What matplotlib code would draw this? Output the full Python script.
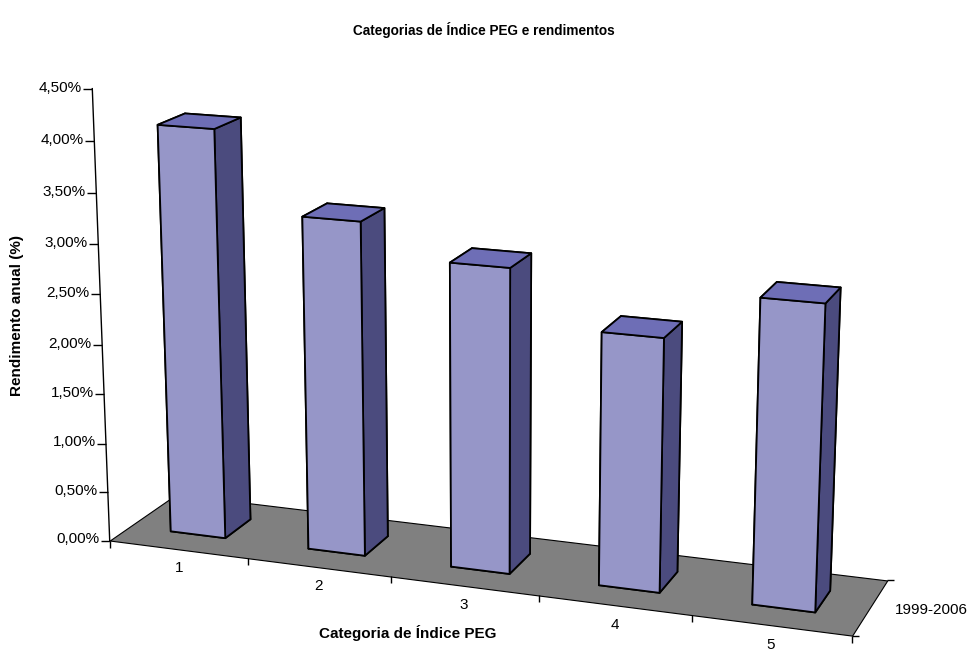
import numpy as np
import matplotlib
matplotlib.use('Agg')
import matplotlib.pyplot as plt
from mpl_toolkits.mplot3d.art3d import Poly3DCollection

plt.rcParams['font.family'] = ['Liberation Sans', 'DejaVu Sans']

# dados
categories = ['1', '2', '3', '4', '5']
returns = [4.10, 3.32, 3.00, 2.47, 2.93]   # rendimento anual em %
series_name = '1999-2006'
y_ticks = [0.0, 0.5, 1.0, 1.5, 2.0, 2.5, 3.0, 3.5, 4.0, 4.5]

front_col = '#9696c8'
top_col = '#6e6eb6'
side_col = '#4b4b7e'
floor_col = '#808080'

n = len(categories)
xs = np.arange(1, n + 1)
bar_w = 0.4
bar_d = 0.4
y0 = 0.3
x_lo, x_hi = 0.5, n + 0.5
zmax = y_ticks[-1]

W, H = 968, 652
fig = plt.figure(figsize=(W / 100, H / 100), dpi=100)
ax = fig.add_axes([-2 / W, -18 / H, 1, 1], projection='3d')
ax.set_proj_type('persp', focal_length=0.80)
ax.view_init(elev=15.6, azim=-70.2)
ax.set_box_aspect((772, 155, 468), zoom=1.392)
ax.set_xlim(x_lo, x_hi, view_margin=0)
ax.set_ylim(0, 1, view_margin=0)
ax.set_zlim(0, zmax, view_margin=0)
ax.set_axis_off()
ax.computed_zorder = False

M = ax.get_proj()


def label3d(x, y, z, s, **kw):
    # projeta o ponto 3d e escreve o texto em 2d
    v = M @ np.array([x, y, z, 1.0])
    return ax.text2D(v[0] / v[3], v[1] / v[3], s, transform=ax.transData,
                     clip_on=False, fontsize=11, **kw)


arts = []

# chao cinzento
floor = Poly3DCollection([[(x_lo, 0, 0), (x_hi, 0, 0), (x_hi, 1, 0), (x_lo, 1, 0)]],
                         facecolor=floor_col, edgecolor='black', linewidths=0.8, zorder=1)
ax.add_collection3d(floor)
arts.append(floor)

# eixo dos valores
arts += ax.plot([x_lo, x_lo], [0, 0], [0, zmax], color='black', lw=1, zorder=1.5)
arts += ax.plot(np.full(len(y_ticks), x_lo), np.zeros(len(y_ticks)), y_ticks,
                ls='none', marker=0, ms=6.5, mew=1, color='black', zorder=1.5)
for t in y_ticks:
    label3d(x_lo - 0.075, 0, t, f'{t:.2f}%'.replace('.', ','), ha='right', va='center')

# eixo das categorias
edges = np.arange(x_lo, x_hi + 0.5)
arts += ax.plot(edges, np.zeros(len(edges)), np.zeros(len(edges)),
                ls='none', marker=3, ms=5, mew=1, color='black', zorder=1.5)
for x, c in zip(xs, categories):
    label3d(x, 0, -0.19, c, ha='center', va='center')

# eixo das series
arts += ax.plot([x_hi, x_hi], [0, 1], [0, 0], ls='none', marker=1, ms=5, mew=1,
                color='black', zorder=1.5)
label3d(x_hi + 0.155, 0.5, 0, series_name, ha='left', va='center')

# barras
face_cols = [top_col, top_col, front_col, front_col, side_col, side_col]
bars = ax.bar3d(xs - bar_w / 2, np.full(n, y0), np.zeros(n), bar_w, bar_d, returns,
                color=face_cols * n, shade=False, edgecolor='black', linewidth=1.3,
                zorder=2)
arts.append(bars)

for a in arts:
    a.set_clip_on(False)

fig.text(0.5, 1 - 30 / H, 'Categorias de Índice PEG e rendimentos',
         ha='center', va='center', fontsize=9.8, fontweight='bold')
fig.text(408 / W, 1 - 633 / H, 'Categoria de Índice PEG',
         ha='center', va='center', fontsize=11, fontweight='bold')
fig.text(17 / W, 1 - 316 / H, 'Rendimento anual (%)', rotation=90,
         ha='center', va='center', fontsize=11, fontweight='bold')

fig.savefig('out.png', dpi=100)
